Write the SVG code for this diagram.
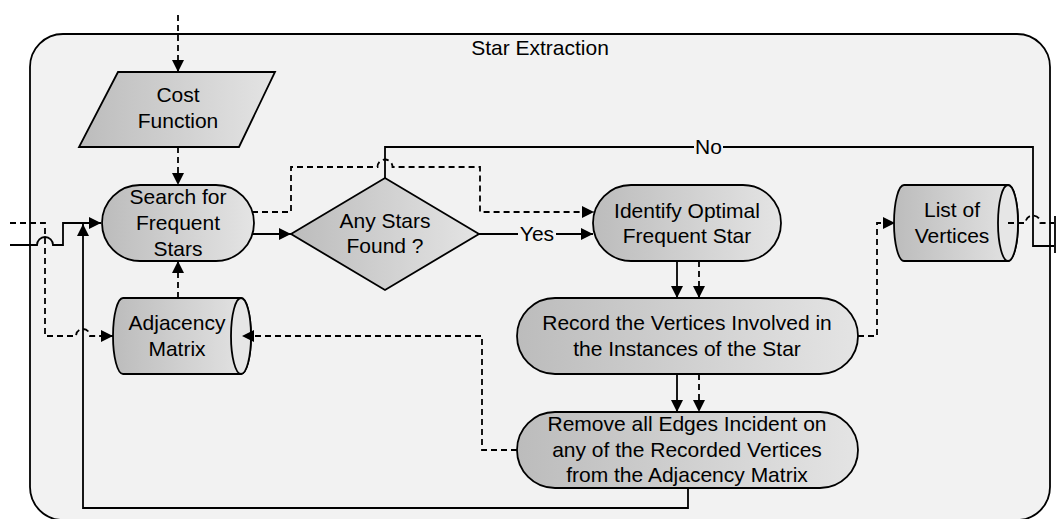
<svg xmlns="http://www.w3.org/2000/svg" width="1057" height="519" viewBox="0 0 1057 519">
  <defs>
    <linearGradient id="nodeFill" x1="0" y1="0" x2="1" y2="0">
      <stop offset="0" stop-color="#bcbcbc"/>
      <stop offset="1" stop-color="#e4e4e4"/>
    </linearGradient>
    <marker id="arrow" markerUnits="userSpaceOnUse" markerWidth="13" markerHeight="12" refX="12" refY="6" orient="auto" viewBox="0 0 13 12">
      <path d="M0,0 L12,6 L0,12 Z" fill="#000"/>
    </marker>
    <style>
      .shape { fill: url(#nodeFill); stroke: #000; stroke-width: 1.8; }
      .face { fill: #e6e6e6; stroke: #000; stroke-width: 1.8; }
      .label { font-family: "Liberation Sans", Arial, sans-serif; font-size: 21px; fill: #000; text-anchor: middle; }
      .flow { fill: none; stroke: #000; stroke-width: 1.8; }
      .data { fill: none; stroke: #000; stroke-width: 1.8; stroke-dasharray: 6 4; }
    </style>
  </defs>

  <rect width="1057" height="519" fill="#fff"/>

  <!-- enclosing process group -->
  <g id="star-extraction">
    <rect x="30" y="34" width="1020" height="486" rx="33" ry="33" fill="#f2f2f2" stroke="#000" stroke-width="1.8"/>
    <text class="label" x="540" y="55">Star Extraction</text>
  </g>

  <g id="cost-function">
    <polygon class="shape" points="118,72 275,72 239,147 79,147"/>
    <text class="label" x="178" y="102">Cost</text>
    <text class="label" x="178" y="128">Function</text>
  </g>

  <g id="search-frequent-stars">
    <rect class="shape" x="102" y="185" width="152" height="76" rx="38" ry="38"/>
    <text class="label" x="178" y="204">Search for</text>
    <text class="label" x="178" y="230">Frequent</text>
    <text class="label" x="178" y="256">Stars</text>
  </g>

  <g id="adjacency-matrix">
    <path class="shape" d="M123,298 H241 A10,38 0 0 1 241,374 H123 A10,38 0 0 1 123,298 Z"/>
    <ellipse class="face" cx="241" cy="336" rx="10" ry="38"/>
    <text class="label" x="177" y="330">Adjacency</text>
    <text class="label" x="177" y="356">Matrix</text>
  </g>

  <g id="any-stars-found">
    <polygon class="shape" points="291,234 385,178 479,234 385,290"/>
    <text class="label" x="385" y="228">Any Stars</text>
    <text class="label" x="385" y="253">Found ?</text>
  </g>

  <g id="identify-optimal-star">
    <rect class="shape" x="593" y="185" width="188" height="76" rx="38" ry="38"/>
    <text class="label" x="687" y="218">Identify Optimal</text>
    <text class="label" x="687" y="243">Frequent Star</text>
  </g>

  <g id="record-vertices">
    <rect class="shape" x="517" y="298" width="341" height="76" rx="38" ry="38"/>
    <text class="label" x="687" y="330">Record the Vertices Involved in</text>
    <text class="label" x="687" y="356">the Instances of the Star</text>
  </g>

  <g id="remove-edges">
    <rect class="shape" x="517" y="412" width="341" height="76" rx="38" ry="38"/>
    <text class="label" x="687" y="431">Remove all Edges Incident on</text>
    <text class="label" x="687" y="457">any of the Recorded Vertices</text>
    <text class="label" x="687" y="482">from the Adjacency Matrix</text>
  </g>

  <g id="list-of-vertices">
    <path class="shape" d="M904,185 H1008 A10,38 0 0 1 1008,261 H904 A10,38 0 0 1 904,185 Z"/>
    <ellipse class="face" cx="1008" cy="223" rx="10" ry="38"/>
    <text class="label" x="952" y="217">List of</text>
    <text class="label" x="952" y="243">Vertices</text>
  </g>

  <g id="connectors">
    <!-- control flow (solid) -->
    <path class="flow" d="M10,245 H37 A8,8 0 0 1 53,245 H63 V223 H101" marker-end="url(#arrow)"/>
    <path class="flow" d="M688,488 V508 H83 V224" marker-end="url(#arrow)"/>
    <path class="flow" d="M253,234 H291" marker-end="url(#arrow)"/>
    <path class="flow" d="M479,234 H518 M556,234 H593" marker-end="url(#arrow)"/>
    <text class="label" x="537" y="241">Yes</text>
    <path class="flow" d="M385,178 V147 H694 M723,147 H1033 V246 H1054"/>
    <text class="label" x="708.5" y="154">No</text>
    <path class="flow" d="M677,261 V298" marker-end="url(#arrow)"/>
    <path class="flow" d="M677,374 V412" marker-end="url(#arrow)"/>
    <line x1="1055" y1="216" x2="1055" y2="253" stroke="#000" stroke-width="1.8"/>

    <!-- data flow (dashed) -->
    <path class="data" d="M178,15 V72" marker-end="url(#arrow)"/>
    <path class="data" d="M178,147 V185" marker-end="url(#arrow)"/>
    <path class="data" d="M178,298 V261" marker-end="url(#arrow)"/>
    <path class="data" d="M10,223 H45 V336 H76 A7,7 0 0 1 90,336 H113" marker-end="url(#arrow)"/>
    <path class="data" d="M252,212 H291 V167 H377.5 A7.5,7.5 0 0 1 392.5,167 H480 V212 H594" marker-end="url(#arrow)"/>
    <path class="data" d="M699,261 V298" marker-end="url(#arrow)"/>
    <path class="data" d="M699,374 V412" marker-end="url(#arrow)"/>
    <path class="data" d="M858,336 H877 V223 H895" marker-end="url(#arrow)"/>
    <path class="data" d="M1008,223 H1025.5 A7.5,7.5 0 0 1 1040.5,223 H1054"/>
    <path class="data" d="M517,450 H482 V336 H242" marker-end="url(#arrow)"/>
  </g>
</svg>
